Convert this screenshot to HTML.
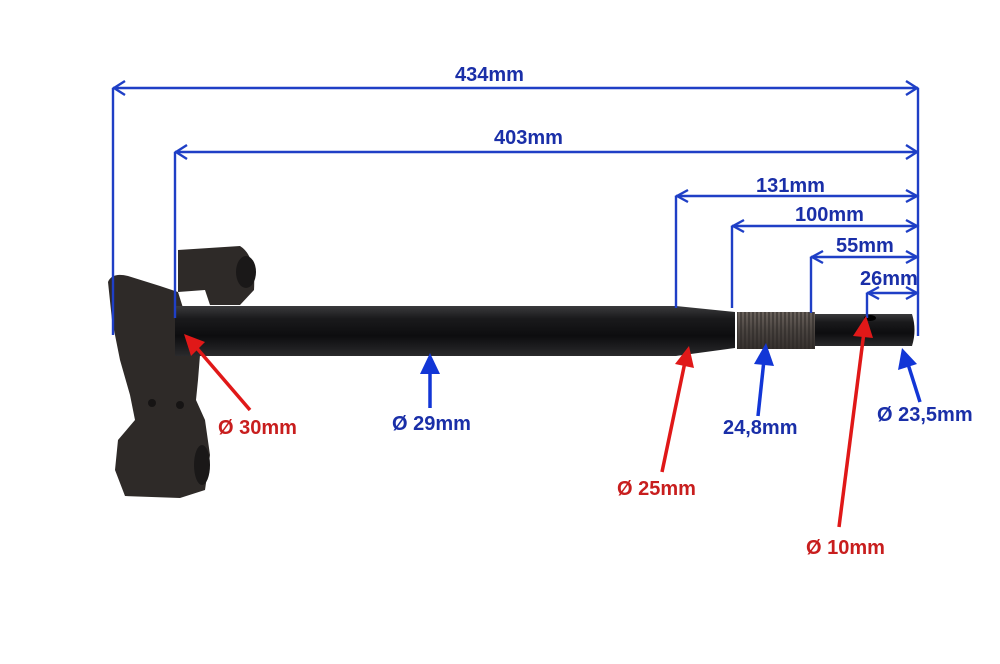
<!DOCTYPE html>
<html><head><style>
html,body{margin:0;padding:0;background:#fff;width:1000px;height:664px;overflow:hidden}
svg text{font-family:"Liberation Sans",Arial,sans-serif;font-weight:bold;font-size:20px}
</style></head><body>
<svg width="1000" height="664" viewBox="0 0 1000 664" xmlns="http://www.w3.org/2000/svg">
<defs>
<linearGradient id="sh" x1="0" y1="0" x2="0" y2="1">
<stop offset="0" stop-color="#3a3a3c"/><stop offset="0.25" stop-color="#1a1a1c"/><stop offset="0.6" stop-color="#0d0d0f"/><stop offset="1" stop-color="#2a2a2c"/>
</linearGradient>
<linearGradient id="th" x1="0" y1="0" x2="0" y2="1">
<stop offset="0" stop-color="#6a625c"/><stop offset="0.5" stop-color="#4a4440"/><stop offset="1" stop-color="#35302d"/>
</linearGradient>
<pattern id="thr" width="4" height="40" patternUnits="userSpaceOnUse"><rect width="2" height="40" fill="#2a2623" opacity="0.5"/></pattern>
</defs>
<!-- bracket -->
<g fill="#2e2a28">
<path d="M178,250 L240,246 Q256,256 254,290 L240,305 L210,305 L205,290 L178,292 Z"/>
<path d="M108,282 Q112,272 128,276 L160,286 L178,292 L190,330 L200,355 L198,380 L196,400 L205,420 L210,455 L205,490 L180,498 L125,496 L115,470 L118,440 L135,420 L130,395 L120,360 L112,320 Z"/>
</g>
<ellipse cx="246" cy="272" rx="10" ry="16" fill="#1a1818"/>
<ellipse cx="202" cy="465" rx="8" ry="20" fill="#1a1818"/>
<circle cx="152" cy="403" r="4" fill="#161414"/><circle cx="180" cy="405" r="4" fill="#161414"/>
<!-- shaft -->
<path d="M175,306 L676,306 L735,312 L735,348 L676,356 L175,356 Z" fill="url(#sh)"/>
<rect x="737" y="312" width="78" height="37" fill="url(#th)"/>
<rect x="737" y="312" width="78" height="37" fill="url(#thr)"/>
<path d="M815,314 L912,314 Q917,330 912,346 L815,346 Z" fill="url(#sh)"/>
<ellipse cx="870" cy="318" rx="6" ry="3" fill="#000"/>
<!-- dimension lines -->
<g stroke="#1f3fc6" stroke-width="2.4" fill="none">
<line x1="113" y1="88" x2="918" y2="88"/><line x1="113" y1="88" x2="113" y2="335"/><line x1="918" y1="88" x2="918" y2="336"/>
<polyline points="125,81 114,88 125,95"/><polyline points="906,81 917,88 906,95"/>
<line x1="175" y1="152" x2="918" y2="152"/><line x1="175" y1="152" x2="175" y2="318"/>
<polyline points="187,145 176,152 187,159"/><polyline points="906,145 917,152 906,159"/>
<line x1="676" y1="196" x2="918" y2="196"/><line x1="676" y1="196" x2="676" y2="308"/>
<polyline points="688,190 677,196 688,202"/><polyline points="906,190 917,196 906,202"/>
<line x1="732" y1="226" x2="918" y2="226"/><line x1="732" y1="226" x2="732" y2="308"/>
<polyline points="744,220 733,226 744,232"/><polyline points="906,220 917,226 906,232"/>
<line x1="811" y1="257" x2="918" y2="257"/><line x1="811" y1="257" x2="811" y2="313"/>
<polyline points="823,251 812,257 823,263"/><polyline points="906,251 917,257 906,263"/>
<line x1="867" y1="293" x2="918" y2="293"/><line x1="867" y1="293" x2="867" y2="318"/>
<polyline points="879,287 868,293 879,299"/><polyline points="906,287 917,293 906,299"/>
</g>
<!-- pointer arrows -->
<g stroke-width="3.5">
<line x1="430" y1="408" x2="430" y2="370" stroke="#1236d6"/>
<line x1="758" y1="416" x2="764" y2="360" stroke="#1236d6"/>
<line x1="920" y1="402" x2="908" y2="364" stroke="#1236d6"/>
<line x1="250" y1="410" x2="195" y2="346" stroke="#e01818"/>
<line x1="662" y1="472" x2="685" y2="362" stroke="#e01818"/>
<line x1="839" y1="527" x2="864" y2="332" stroke="#e01818"/>
</g>
<g fill="#1236d6">
<polygon points="430,353 420,374 440,374"/>
<polygon points="766,343 754,364 774,366"/>
<polygon points="902,348 898,370 917,364"/>
</g>
<g fill="#e01818">
<polygon points="184,334 191,356 205,342"/>
<polygon points="689,346 675,364 694,368"/>
<polygon points="866,316 853,336 873,338"/>
</g>
<!-- labels -->
<g fill="#1a2fa8">
<text x="455" y="81">434mm</text>
<text x="494" y="144">403mm</text>
<text x="756" y="192">131mm</text>
<text x="795" y="221">100mm</text>
<text x="836" y="252">55mm</text>
<text x="860" y="285">26mm</text>
<text x="392" y="430">Ø 29mm</text>
<text x="723" y="434">24,8mm</text>
<text x="877" y="421">Ø 23,5mm</text>
</g>
<g fill="#c81e1e">
<text x="218" y="434">Ø 30mm</text>
<text x="617" y="495">Ø 25mm</text>
<text x="806" y="554">Ø 10mm</text>
</g>
</svg>
</body></html>
